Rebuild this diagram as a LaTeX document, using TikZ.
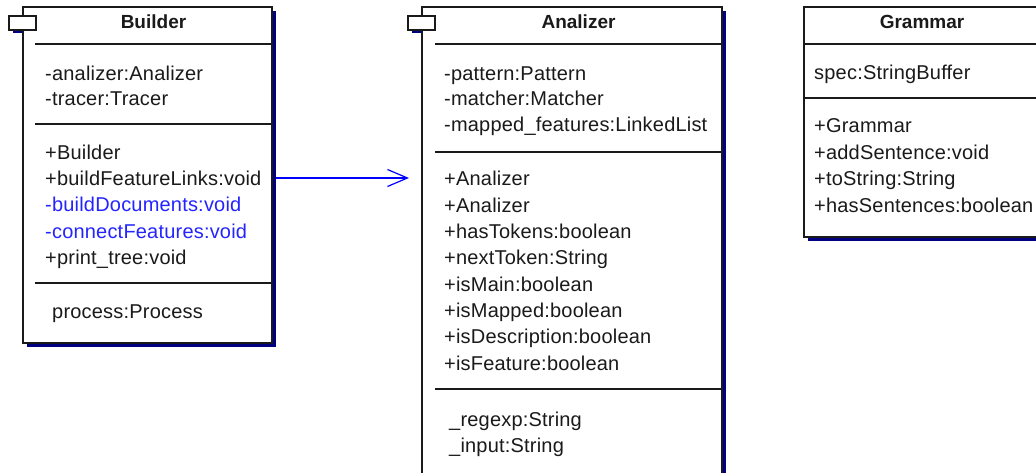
\documentclass[tikz,border=0pt]{standalone}
\usepackage{fontspec}
\setmainfont{Liberation Sans}
\newfontfamily\memberfont[LetterSpace=1.0]{Liberation Sans}
\usetikzlibrary{arrows.meta,shadows}
\definecolor{umlink}{HTML}{1A1A1A}
\definecolor{umlshadow}{HTML}{000080}
\definecolor{umlblue}{HTML}{0000FF}
\definecolor{privblue}{HTML}{2424FF}
\begin{document}
\begin{tikzpicture}[x=1pt,y=-1pt,
  classbox/.style={draw=umlink, line width=1.3pt, fill=white, rectangle,
    inner sep=0pt, outer sep=0pt, anchor=north west,
    general shadow={fill=umlshadow, shadow xshift=4pt, shadow yshift=-4pt}},
  tabbox/.style={draw=umlink, line width=1.3pt, fill=white, rectangle,
    inner sep=0pt, outer sep=0pt, anchor=north west,
    minimum width=27pt, minimum height=14pt},
  sepline/.style={draw=umlink, line width=1.3pt},
  member/.style={anchor=base west, inner sep=0pt, text=umlink,
    font=\memberfont\fontsize{20pt}{24pt}\selectfont},
  private/.style={member, text=privblue},
  classtitle/.style={anchor=base, inner sep=0pt, text=umlink,
    font=\fontsize{19pt}{23pt}\selectfont\bfseries},
  assoc/.style={draw=umlblue, line width=1.2pt,
    -{Straight Barb[length=20pt,width=17pt,line width=1.2pt]}}
]
\useasboundingbox (0,0) rectangle (1036,473);
\clip (0,0) rectangle (1036,473);

% shadows of the component tabs (behind the class bodies)
\fill[umlshadow] (13,19) rectangle (40,33);
\fill[umlshadow] (412,19) rectangle (439,33);

% class bodies
\node[classbox, minimum width=249pt, minimum height=336pt] (builder) at (23,7) {};
\node[classbox, minimum width=300pt, minimum height=500pt] (analizer) at (422,7) {};
\node[classbox, minimum width=236pt, minimum height=230pt] (grammar) at (804,7) {};

% compartment separators
\draw[sepline] (35,44) -- (272,44);
\draw[sepline] (35,124) -- (272,124);
\draw[sepline] (35,283) -- (272,283);
\draw[sepline] (435,44) -- (722,44);
\draw[sepline] (435,152) -- (722,152);
\draw[sepline] (435,389) -- (722,389);
\draw[sepline] (804,44) -- (1040,44);
\draw[sepline] (804,98) -- (1040,98);

% component tabs
\node[tabbox] (buildertab) at (9,16) {};
\node[tabbox] (analizertab) at (408,16) {};

% Builder
\node[classtitle] (builder-title) at (153.5,29) {Builder};
\node[member] (b-a1) at (45,81) {-analizer:Analizer};
\node[member] (b-a2) at (45,106) {-tracer:Tracer};
\node[member] (b-m1) at (45,160) {+Builder};
\node[member] (b-m2) at (45,186) {+buildFeatureLinks:void};
\node[private] (b-m3) at (45,212) {-buildDocuments:void};
\node[private] (b-m4) at (45,238) {-connectFeatures:void};
\node[member] (b-m5) at (45,264) {+print\_tree:void};
\node[member] (b-s1) at (52,318) {process:Process};

% Analizer
\node[classtitle] (analizer-title) at (578.5,29) {Analizer};
\node[member] (a-a1) at (444,81) {-pattern:Pattern};
\node[member] (a-a2) at (444,106) {-matcher:Matcher};
\node[member] (a-a3) at (444,132) {-mapped\_features:LinkedList};
\foreach \t [count=\i from 0] in {+Analizer,+Analizer,+hasTokens:boolean,
    +nextToken:String,+isMain:boolean,+isMapped:boolean,
    +isDescription:boolean,+isFeature:boolean}
  \node[member] (a-m\i) at (444,{186+26.3*\i}) {\t};
\node[member] (a-s1) at (449,426) {\_regexp:String};
\node[member] (a-s2) at (449,452) {\_input:String};

% Grammar
\node[classtitle] (grammar-title) at (922,29) {Grammar};
\node[member] (g-a1) at (814,80) {spec:StringBuffer};
\foreach \t [count=\i from 0] in {+Grammar,+addSentence:void,
    +toString:String,+hasSentences:boolean}
  \node[member] (g-m\i) at (814,{133+26.5*\i}) {\t};

% association Builder -> Analizer
\coordinate (linkrow) at (0,178);
\draw[assoc, shorten <=4pt, shorten >=13pt]
  (builder.east |- linkrow) -- (analizer.west |- linkrow);
\end{tikzpicture}
\end{document}
